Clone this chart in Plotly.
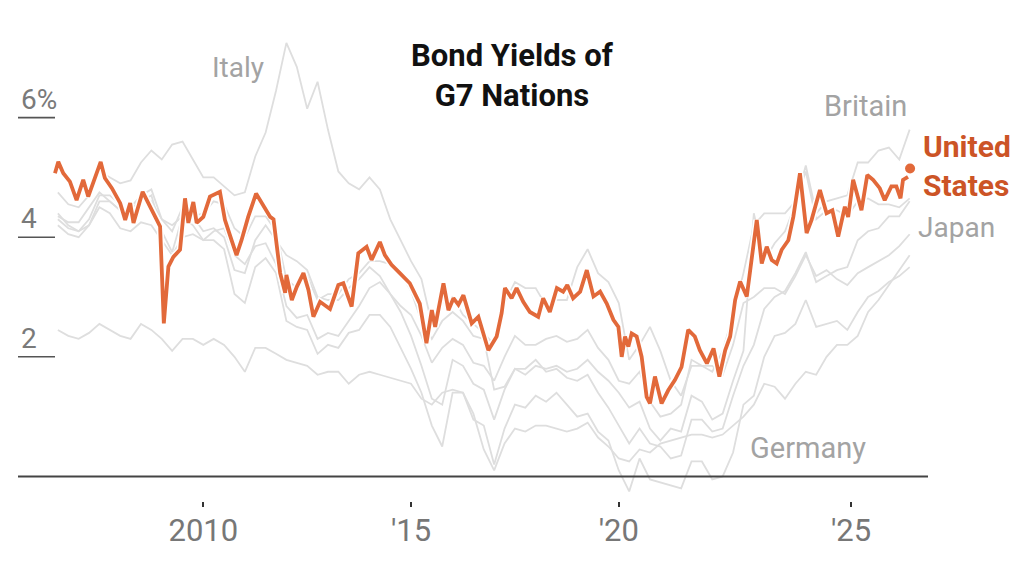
import plotly.graph_objects as go

# horizontal positions are decimal years
grid_years = [
    2006.50, 2006.75, 2007.00, 2007.25, 2007.50, 2007.75, 2008.00, 2008.25, 2008.50, 2008.75,
    2009.00, 2009.25, 2009.50, 2009.75, 2010.00, 2010.25, 2010.50, 2010.75, 2011.00, 2011.25,
    2011.50, 2011.75, 2012.00, 2012.25, 2012.50, 2012.75, 2013.00, 2013.25, 2013.50, 2013.75,
    2014.00, 2014.25, 2014.50, 2014.75, 2015.00, 2015.25, 2015.50, 2015.75, 2016.00, 2016.25,
    2016.50, 2016.75, 2017.00, 2017.25, 2017.50, 2017.75, 2018.00, 2018.25, 2018.50, 2018.75,
    2019.00, 2019.25, 2019.50, 2019.75, 2020.00, 2020.25, 2020.50, 2020.75, 2021.00, 2021.25,
    2021.50, 2021.75, 2022.00, 2022.25, 2022.50, 2022.75, 2023.00, 2023.25, 2023.50, 2023.75,
    2024.00, 2024.25, 2024.50, 2024.75, 2025.00, 2025.25, 2025.50, 2025.75, 2026.00, 2026.25,
    2026.50, 2026.75, 2027.00,
]

britain = [
    4.35, 4.25, 4.25, 4.5, 4.75, 4.6, 4.45, 4.5, 4.7, 4.6,
    4.3, 4.2, 4.35, 4.35, 4.4, 4.6, 4.55, 4.15, 4.0, 4.35,
    4.35, 4.1, 3.3, 3.15, 3.35, 2.95, 3.05, 3.05, 3.3, 3.4,
    3.6, 3.6, 3.55, 3.4, 3.1, 2.6, 2.3, 2.6, 2.75, 2.6,
    2.35, 2.3, 1.45, 1.5, 1.8, 1.7, 1.85, 1.8, 1.85, 1.75,
    1.8, 1.95, 1.75, 1.6, 1.4, 1.15, 1.25, 0.8, 0.6, 0.8,
    0.75, 1.35, 1.25, 0.95, 1.05, 1.6, 2.1, 4.4, 3.6, 3.9,
    4.1, 4.55, 5.2, 4.4, 4.6, 4.65, 4.7, 5.25, 5.25, 5.45,
    5.5, 5.3, 5.8,
]
italy = [
    4.75, 4.55, 4.5, 4.7, 5.1, 5.0, 4.9, 4.95, 5.25, 5.45,
    5.3, 5.55, 5.6, 5.3, 5.0, 5.0, 4.85, 4.7, 4.75, 5.35,
    5.75, 6.45, 7.25, 6.85, 6.15, 6.6, 5.8, 5.1, 4.9, 4.8,
    5.0, 4.8, 4.3, 3.95, 3.6, 3.3, 2.55, 2.9, 3.0, 2.7,
    2.55, 2.4, 2.2, 2.9, 3.25, 3.15, 3.15, 2.85, 2.95, 2.95,
    3.5, 3.8, 3.4, 3.25, 2.9, 1.95, 2.2, 2.5, 2.1, 1.6,
    1.35, 1.85, 1.85, 1.75, 2.1, 2.7, 3.4, 4.2, 4.4, 4.4,
    4.4, 4.6, 5.1, 4.3, 4.45, 4.45, 4.35, 4.6, 4.65, 4.55,
    4.55, 4.5, 4.65,
]
france = [
    4.3, 4.15, 4.1, 4.3, 4.7, 4.7, 4.55, 4.4, 4.7, 4.8,
    4.3, 4.1, 4.5, 4.35, 4.1, 4.15, 4.0, 3.45, 3.4, 3.95,
    4.2, 3.95, 3.7, 3.6, 3.45, 3.0, 2.95, 2.95, 3.15, 3.3,
    3.5, 3.35, 3.05, 2.75, 2.35, 1.85, 1.3, 1.2, 1.95, 1.85,
    1.55, 1.45, 0.95, 1.45, 1.8, 1.8, 1.95, 1.75, 1.8, 1.65,
    1.6, 1.7, 1.4, 1.15, 0.85, 0.55, 0.8, 0.55, 0.5, 0.3,
    0.35, 0.95, 0.95, 0.75, 0.8, 1.35, 1.85, 2.2, 2.8, 3.0,
    3.1, 3.4, 3.75, 3.25, 3.35, 3.45, 3.5, 3.95, 4.1, 4.15,
    4.35, 4.35, 4.6,
]
canada = [
    4.4, 4.2, 4.1, 4.2, 4.5, 4.4, 4.15, 4.1, 4.25, 4.2,
    3.95, 3.7, 4.0, 4.05, 3.95, 4.1, 4.15, 3.7, 3.55, 3.85,
    3.9, 3.55, 2.85, 2.65, 2.7, 2.3, 2.4, 2.35, 2.6, 2.85,
    3.15, 3.25, 3.05, 2.85, 2.7, 2.35, 1.9, 2.15, 2.3, 2.2,
    1.9, 1.85, 1.6, 2.0, 2.35, 2.2, 2.2, 2.3, 2.35, 2.25,
    2.3, 2.45, 2.15, 1.95, 1.6, 1.55, 1.75, 1.25, 1.0, 1.05,
    1.2, 1.95, 1.85, 1.85, 1.7, 2.2, 2.9, 3.0, 3.15, 3.15,
    3.05, 3.35, 3.7, 3.35, 3.45, 3.3, 3.2, 3.4, 3.5, 3.6,
    3.7, 3.85, 4.05,
]
germany = [
    4.2, 4.05, 4.0, 4.2, 4.6, 4.6, 4.45, 4.4, 4.6, 4.7,
    4.1, 3.75, 4.35, 4.2, 3.95, 3.95, 3.8, 3.05, 2.9, 3.5,
    3.65, 3.4, 2.6, 2.5, 2.45, 2.05, 2.2, 2.15, 2.4, 2.45,
    2.7, 2.7, 2.5, 2.15, 1.8, 1.4, 0.85, 0.5, 1.4, 1.4,
    0.95, 0.85, 0.2, 0.8, 1.2, 1.15, 1.35, 1.25, 1.4, 1.2,
    1.0, 1.05, 0.75, 0.6, 0.1, -0.25, 0.3, -0.05, -0.1, -0.15,
    -0.2, 0.25, 0.25, -0.05, 0.0, 0.4, 1.2, 1.35, 2.0, 2.35,
    2.4, 2.55, 2.95, 2.5, 2.55, 2.6, 2.45, 2.75, 3.0, 3.1,
    3.25, 3.35, 3.5,
]
japan = [
    2.45, 2.35, 2.3, 2.4, 2.55, 2.45, 2.35, 2.3, 2.55, 2.45,
    2.3, 2.1, 2.3, 2.3, 2.2, 2.3, 2.2, 2.0, 1.75, 2.15,
    2.15, 2.05, 1.95, 1.9, 1.85, 1.7, 1.75, 1.75, 1.55, 1.7,
    1.75, 1.7, 1.65, 1.6, 1.55, 1.3, 1.2, 1.4, 1.45, 1.4,
    1.05, 0.45, 0.1, 0.55, 0.8, 0.75, 0.85, 0.85, 0.8, 0.75,
    0.8, 0.9, 0.65, 0.5, 0.3, 0.25, 0.45, 0.4, 0.55, 0.6,
    0.65, 0.7, 0.7, 0.65, 0.7, 0.85, 1.0, 1.2, 1.55, 1.5,
    1.3, 1.55, 1.75, 1.7, 2.0, 2.2, 2.2, 2.35, 2.75, 2.95,
    3.2, 3.45, 3.7,
]

us_years = [
    2006.43, 2006.51, 2006.63, 2006.79, 2006.95, 2007.11, 2007.23, 2007.35, 2007.53, 2007.63,
    2007.80, 2008.00, 2008.12, 2008.24, 2008.32, 2008.54, 2008.68, 2008.84, 2008.96, 2009.05,
    2009.16, 2009.28, 2009.44, 2009.56, 2009.64, 2009.76, 2009.84, 2010.00, 2010.16, 2010.40,
    2010.52, 2010.68, 2010.80, 2010.92, 2011.08, 2011.27, 2011.40, 2011.61, 2011.69, 2011.85,
    2011.97, 2012.00, 2012.13, 2012.25, 2012.41, 2012.53, 2012.65, 2012.81, 2013.05, 2013.25,
    2013.37, 2013.57, 2013.73, 2013.93, 2014.05, 2014.25, 2014.37, 2014.53, 2014.73, 2014.97,
    2015.21, 2015.37, 2015.50, 2015.58, 2015.78, 2015.90, 2016.02, 2016.14, 2016.26, 2016.46,
    2016.62, 2016.86, 2017.06, 2017.18, 2017.26, 2017.42, 2017.54, 2017.70, 2017.86, 2018.06,
    2018.18, 2018.34, 2018.51, 2018.66, 2018.76, 2018.90, 2019.07, 2019.23, 2019.39, 2019.55,
    2019.71, 2019.87, 2019.99, 2020.07, 2020.15, 2020.23, 2020.31, 2020.43, 2020.55, 2020.67,
    2020.75, 2020.87, 2021.03, 2021.19, 2021.35, 2021.51, 2021.67, 2021.83, 2021.95, 2022.12,
    2022.28, 2022.42, 2022.56, 2022.68, 2022.80, 2022.92, 2023.08, 2023.24, 2023.32, 2023.44,
    2023.56, 2023.68, 2023.80, 2023.92, 2024.08, 2024.20, 2024.36, 2024.52, 2024.64, 2024.84,
    2025.00, 2025.14, 2025.28, 2025.44, 2025.52, 2025.64, 2025.76, 2025.84, 2025.98, 2026.12,
    2026.28, 2026.40, 2026.56, 2026.68, 2026.78, 2026.84, 2026.96,
]
us_yield = [
    5.07, 5.26, 5.07, 4.93, 4.62, 4.96, 4.68, 4.93, 5.26, 4.99,
    4.82, 4.57, 4.29, 4.57, 4.24, 4.76, 4.57, 4.34, 4.18, 2.56,
    3.51, 3.67, 3.79, 4.65, 4.24, 4.59, 4.24, 4.34, 4.68, 4.76,
    4.29, 3.95, 3.70, 3.95, 4.34, 4.73, 4.57, 4.34, 4.30, 3.40,
    3.07, 3.37, 2.95, 3.17, 3.40, 3.12, 2.67, 2.92, 2.80, 3.20,
    3.23, 2.84, 3.73, 3.84, 3.62, 3.92, 3.70, 3.54, 3.40, 3.23,
    2.89, 2.23, 2.78, 2.50, 3.23, 2.78, 2.98, 2.87, 3.03, 2.56,
    2.67, 2.11, 2.34, 2.73, 3.15, 2.98, 3.15, 2.92, 2.75, 2.67,
    2.98, 2.75, 3.15, 3.09, 3.20, 2.98, 3.09, 3.45, 3.01, 3.09,
    2.89, 2.62, 2.50, 2.00, 2.34, 2.17, 2.39, 2.34, 2.00, 1.33,
    1.22, 1.67, 1.22, 1.44, 1.61, 1.83, 2.45, 2.34, 2.11, 1.89,
    2.14, 1.67, 2.11, 2.34, 2.95, 3.26, 3.01, 3.79, 4.29, 3.56,
    3.84, 3.62, 3.56, 3.79, 3.95, 4.34, 5.07, 4.07, 4.29, 4.79,
    4.40, 4.45, 4.01, 4.51, 4.34, 4.96, 4.68, 4.45, 5.04, 4.96,
    4.82, 4.62, 4.85, 4.85, 4.65, 4.96, 5.01,
]
us_latest_year = [2027.01]
us_latest_yield = [5.15]

grey_series = [britain, italy, france, canada, germany, japan]

y_tick_vals = [2, 4, 6]
y_tick_text = ["2", "4", "6%"]
x_tick_vals = [2010, 2015, 2020, 2025.59]
x_tick_text = ["2010", "'15", "'20", "'25"]

FONT = "Roboto"
GREY_LINE = "#dedede"
ORANGE = "#e2693a"
LABEL_GREY = "#a3a3a3"

fig = go.Figure()

for vals in grey_series:
    fig.add_trace(go.Scatter(x=grid_years, y=vals, mode="lines",
                             line=dict(color=GREY_LINE, width=1.8), hoverinfo="skip"))

# white halo under the US line
fig.add_trace(go.Scatter(x=us_years, y=us_yield, mode="lines",
                         line=dict(color="white", width=7), hoverinfo="skip"))
fig.add_trace(go.Scatter(x=us_years, y=us_yield, mode="lines",
                         line=dict(color=ORANGE, width=3.8)))
fig.add_trace(go.Scatter(x=us_latest_year, y=us_latest_yield, mode="markers",
                         marker=dict(color=ORANGE, size=10)))

shapes = []
for v in y_tick_vals:
    shapes.append(dict(type="line", xref="paper", yref="y", x0=18 / 1024, x1=55 / 1024,
                       y0=v, y1=v, line=dict(color="#555", width=1.6)))
shapes.append(dict(type="line", xref="paper", yref="y", x0=18 / 1024, x1=928 / 1024,
                   y0=0, y1=0, line=dict(color="#444", width=2)))

annotations = []
for v, t in zip(y_tick_vals, y_tick_text):
    annotations.append(dict(x=19 / 1024, xref="paper", y=v, yref="y", text=t,
                            showarrow=False, xanchor="left", yanchor="bottom", yshift=0,
                            font=dict(family=FONT, size=28, color="#7a7a7a")))

labels = [
    ("Italy", 2010.16, 6.83, LABEL_GREY, 28, False),
    ("Britain", 2024.89, 6.19, LABEL_GREY, 29, False),
    ("Japan", 2027.15, 4.17, LABEL_GREY, 28, False),
    ("Germany", 2023.11, 0.47, LABEL_GREY, 29, False),
    ("United<br>States", 2027.27, 5.19, "#cc5426", 30, True),
]
for text, x, y, col, size, bold in labels:
    annotations.append(dict(x=x, y=y, text=f"<b>{text}</b>" if bold else text,
                            showarrow=False, xanchor="left", yanchor="middle", align="left",
                            font=dict(family=FONT, size=size, color=col)))

annotations.append(dict(x=2017.45, y=6.70, text="<b>Bond Yields of<br>G7 Nations</b>",
                        showarrow=False, xanchor="center", yanchor="middle",
                        font=dict(family=FONT, size=31, color="#111")))

fig.update_layout(
    width=1024, height=577,
    margin=dict(l=0, r=0, t=0, b=76),
    paper_bgcolor="white", plot_bgcolor="white",
    showlegend=False,
    shapes=shapes,
    annotations=annotations,
    xaxis=dict(range=[2005.107, 2029.752], showgrid=False, zeroline=False, showline=False,
               tickvals=x_tick_vals, ticktext=x_tick_text, ticks="outside", ticklen=5,
               tickwidth=1.5, tickcolor="#333", ticklabelstandoff=-3,
               tickfont=dict(family=FONT, size=31, color="#777")),
    yaxis=dict(range=[-0.411, 7.967], visible=False),
)

# drop the default page margin so the figure sits at the window's corner
fig.write_html("out.html", config={"displayModeBar": False},
               post_script="document.body.style.margin='0';")
